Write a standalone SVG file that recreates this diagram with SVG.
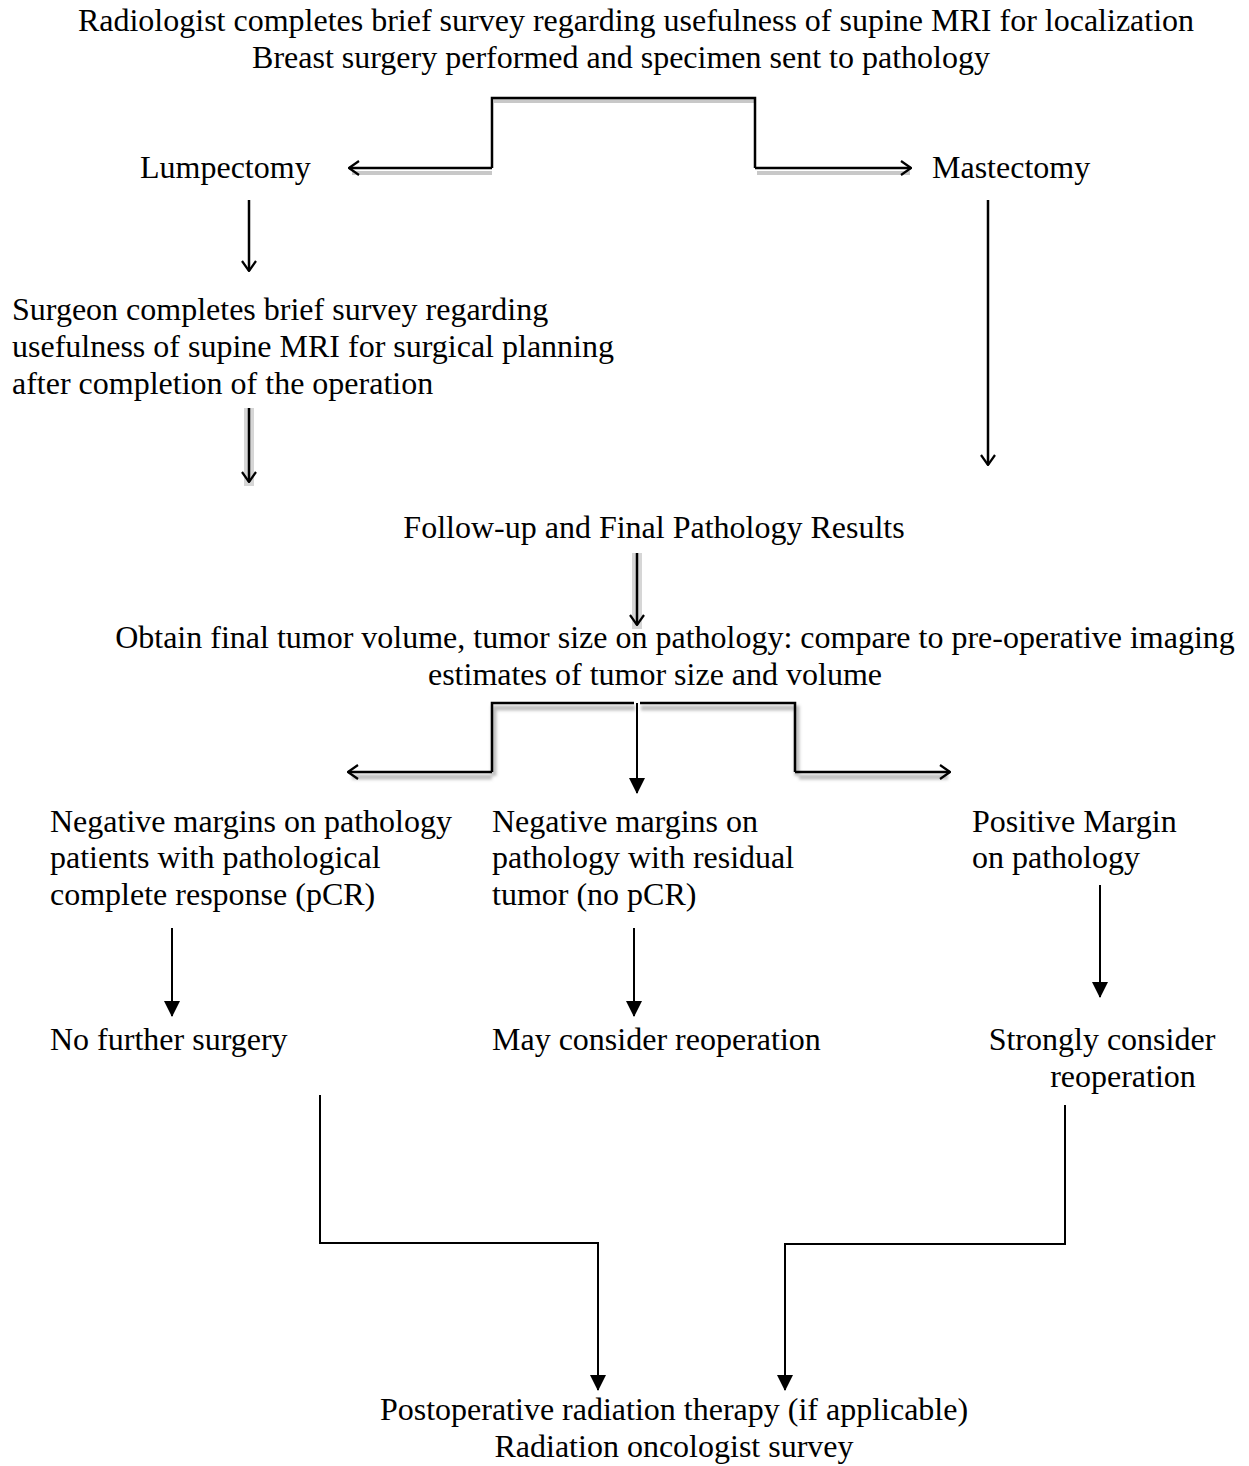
<svg xmlns="http://www.w3.org/2000/svg" width="1249" height="1466" viewBox="0 0 1249 1466">
<style>
text{font-family:"Liberation Serif","Times New Roman",serif;font-size:32px;fill:#000}
.c{text-anchor:middle}
.ln{fill:none;stroke:#000;stroke-width:2.5}
.thin{fill:none;stroke:#000;stroke-width:2}
.sh{fill:none;stroke:#c8c8c8;stroke-width:4}
.sh2{fill:none;stroke:#bdbdbd;stroke-width:5;filter:url(#blur)}
</style>
<defs>
<filter id="blur" x="-0.1" y="-0.1" width="1.2" height="1.3"><feGaussianBlur stdDeviation="1.5"/></filter>
<marker id="open" viewBox="0 0 12 16" refX="11" refY="8" markerWidth="12" markerHeight="16" markerUnits="userSpaceOnUse" orient="auto"><path d="M1,1 L11,8 L1,15" fill="none" stroke="#000" stroke-width="2.2"/></marker>
<marker id="fill" viewBox="0 0 16 16" refX="15" refY="8" markerWidth="16" markerHeight="16" markerUnits="userSpaceOnUse" orient="auto"><path d="M0,0 L16,8 L0,16 Z" fill="#000"/></marker>
</defs>
<g id="connectors">
<path class="sh" d="M352,173 H492 M494,101 H754 M757,173 H910"/>
<path class="ln" d="M492,168 V98 H755 V168" />
<path class="ln" d="M492,168 H349" marker-end="url(#open)"/>
<path class="ln" d="M755,168 H911" marker-end="url(#open)"/>
<path class="ln" d="M249,200 V271" marker-end="url(#open)"/>
<rect x="244" y="408" width="10" height="78" fill="#d6d6d6"/>
<path class="ln" d="M249,408 V482" marker-end="url(#open)"/>
<path class="ln" d="M988,200 V465" marker-end="url(#open)"/>
<rect x="632" y="553" width="10" height="76" fill="#d6d6d6"/>
<path class="ln" d="M637,553 V625" marker-end="url(#open)"/>
<path class="sh2" d="M494,776 V708 H635 M641,708 H797 V776 M352,777 H492 M799,777 H948"/>
<path class="ln" d="M492,772 V703 H634 M640,703 H795 V772" />
<path class="ln" d="M492,772 H348" marker-end="url(#open)"/>
<path class="ln" d="M795,772 H950" marker-end="url(#open)"/>
<path class="thin" d="M637,703 V793" marker-end="url(#fill)"/>
<path class="thin" d="M172,928 V1016" marker-end="url(#fill)"/>
<path class="thin" d="M634,928 V1016" marker-end="url(#fill)"/>
<path class="thin" d="M1100,885 V997" marker-end="url(#fill)"/>
<path class="thin" d="M320,1095 V1243 H598 V1390" marker-end="url(#fill)"/>
<path class="thin" d="M1065,1105 V1244 H785 V1390" marker-end="url(#fill)"/>
</g>
<g id="n-top"><text class="c" x="636" y="31">Radiologist completes brief survey regarding usefulness of supine MRI for localization</text><text class="c" x="621" y="68">Breast surgery performed and specimen sent to pathology</text></g>
<g id="n-lump"><text x="140" y="178">Lumpectomy</text></g>
<g id="n-mast"><text x="932" y="178">Mastectomy</text></g>
<g id="n-surgeon"><text x="12" y="320">Surgeon completes brief survey regarding</text><text x="12" y="357">usefulness of supine MRI for surgical planning</text><text x="12" y="394">after completion of the operation</text></g>
<g id="n-follow"><text class="c" x="654" y="538">Follow-up and Final Pathology Results</text></g>
<g id="n-obtain"><text class="c" x="675" y="648">Obtain final tumor volume, tumor size on pathology: compare to pre-operative imaging</text><text class="c" x="655" y="685">estimates of tumor size and volume</text></g>
<g id="n-neg1"><text x="50" y="832">Negative margins on pathology</text><text x="50" y="868">patients with pathological</text><text x="50" y="905">complete response (pCR)</text></g>
<g id="n-neg2"><text x="492" y="832">Negative margins on</text><text x="492" y="868">pathology with residual</text><text x="492" y="905">tumor (no pCR)</text></g>
<g id="n-pos"><text x="972" y="832">Positive Margin</text><text x="972" y="868">on pathology</text></g>
<g id="n-nofurther"><text x="50" y="1050">No further surgery</text></g>
<g id="n-may"><text x="492" y="1050">May consider reoperation</text></g>
<g id="n-strong"><text class="c" x="1102" y="1050">Strongly consider</text><text class="c" x="1123" y="1087">reoperation</text></g>
<g id="n-post"><text class="c" x="674" y="1420">Postoperative radiation therapy (if applicable)</text><text class="c" x="674" y="1457">Radiation oncologist survey</text></g>
</svg>
